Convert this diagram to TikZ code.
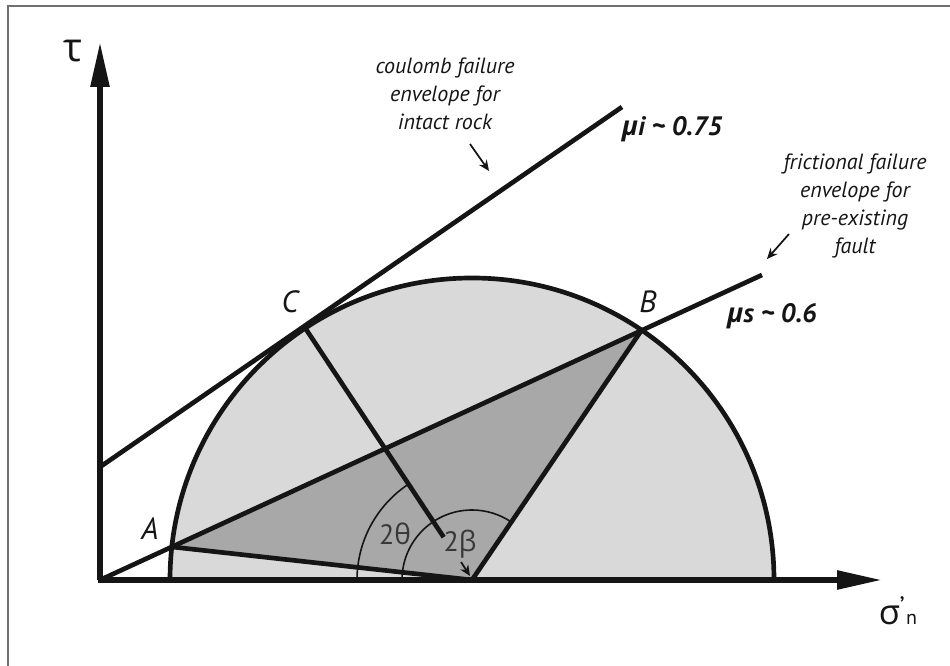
\documentclass[tikz,border=0pt]{standalone}
\usepackage{fontspec}
\setmainfont{PT Sans}
\newfontfamily\gr{Open Sans}
\usetikzlibrary{arrows.meta,calc}
\definecolor{lightfill}{HTML}{D9D9D9}
\definecolor{darkfill}{HTML}{A8A8A8}
\definecolor{framegray}{HTML}{707070}
\definecolor{ink}{HTML}{151515}
\begin{document}
\begin{tikzpicture}[x=0.75pt,y=0.75pt,
  axisline/.style={ink,line width=4.2pt,-{Triangle[length=33.75pt,width=13.5pt]}},
  envline/.style={ink,line width=3.5pt},
  arcline/.style={ink,line width=1.2pt},
  ptr/.style={ink,line width=1.3pt,-{Stealth[length=8pt,width=7pt]}},
  lab/.style={ink,font=\fontsize{23}{23}\selectfont\itshape},
  anglab/.style={ink!85,font=\fontsize{21}{21}\selectfont},
  mulab/.style={ink,font=\fontsize{20}{20}\selectfont\bfseries\itshape},
  note/.style={ink,font=\fontsize{16.5}{21}\selectfont\itshape,align=center}]
\useasboundingbox (0,0) rectangle (950,666);
% frame
\draw[framegray,line width=1.5pt] (8,0) -- (8,660) -- (950,660);
% key points
\coordinate (O) at (100,86);
\coordinate (M) at (472,86);
\coordinate (L) at (170,86);
\coordinate (A) at (171.7,119.1);
\coordinate (B) at (642,336.4);
\coordinate (C) at ($(M)+(123.5:302)$);
\coordinate (Cend) at ($(C)!0.83!(M)$);
\coordinate (Send) at (762,391);
\coordinate (Istart) at (100,199);
\coordinate (Iend) at (622,559);
\coordinate (Ytip) at (100,624);
\coordinate (Xtip) at (882,86);
% fills
\fill[lightfill] (L) arc[start angle=180,end angle=0,radius=302] -- cycle;
\fill[darkfill] (A) -- (B) -- (M) -- cycle;
% angle arcs
\draw[arcline] ($(M)+(-115,0)$) arc[start angle=180,end angle=123.5,radius=115];
\draw[arcline] ($(M)+(-70,0)$) arc[start angle=180,end angle=55.8,radius=70];
% lines
\draw[envline] (A) -- (M);
\draw[envline] (B) -- (M);
\draw[envline] (C) -- (Cend);
\draw[envline] (O) -- (Send);
\draw[envline] (Istart) -- (Iend);
\draw[envline] (L) arc[start angle=180,end angle=0,radius=302];
% axes
\draw[axisline] (O) -- (Ytip);
\draw[axisline] ($(O)+(-2.5,0)$) -- (Xtip);
% labels
\node[lab] (lA) at (150,137) {A};
\node[lab] (lB) at (648,364) {B};
\node[lab] (lC) at (290,364) {C};
\node[ink] (tau) at (73,615) {\gr\fontsize{30}{30}\selectfont τ};
\node[ink,anchor=base] (sig) at (898,41) {{\gr\fontsize{26}{26}\selectfont σ}\kern-0.5pt\raisebox{7pt}{\fontsize{20}{20}\selectfont\textquoteright}\kern1pt{\fontsize{15}{15}\selectfont n}};
\node[anglab] (th) at (395,132) {2{\gr θ}};
\node[anglab] (be) at (460,122) {2{\gr β}};
\node[mulab] (mui) at (672,537) {{\gr μ}i \textasciitilde{} 0.75};
\node[mulab] (mus) at (772,350) {{\gr μ}s \textasciitilde{} 0.6};
\node[note] (n1) at (445,572) {coulomb failure\\envelope for\\intact rock};
\node[note] (n2) at (855,460) {frictional failure\\envelope for\\pre-existing\\fault};
% pointers
\coordinate (p1s) at (470,522);
\coordinate (p1e) at (489,495);
\coordinate (p2s) at (789,432);
\coordinate (p2e) at (767,407);
\coordinate (p3s) at (461,104);
\coordinate (p3e) at (470,90);
\draw[ptr] (p1s) -- (p1e);
\draw[ptr] (p2s) -- (p2e);
\draw[ptr] (p3s) -- (p3e);
\end{tikzpicture}
\end{document}
